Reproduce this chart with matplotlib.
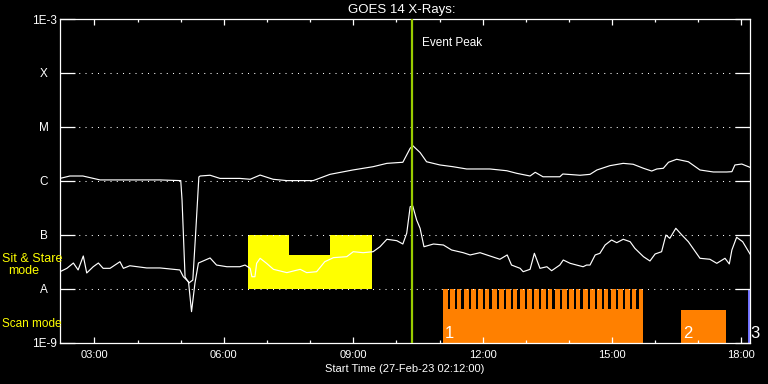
import matplotlib
matplotlib.use("Agg")
import matplotlib.pyplot as plt
from matplotlib.ticker import MultipleLocator, NullLocator

plt.rcParams['font.family'] = ['Liberation Sans', 'DejaVu Sans']

# GOES 14 long channel (1-8 A), time in hours UT on 27-Feb-23
long_t = [2.20, 2.43, 2.73, 3.13, 3.59, 4.06, 4.52, 5.00, 5.03, 5.10, 5.19, 5.28, 5.35, 5.42,
          5.45, 5.68, 5.91, 6.37, 6.61, 6.84, 7.14, 7.46, 8.07, 8.46, 8.99, 9.46, 9.78, 10.15,
          10.32, 10.38, 10.55, 10.70, 11.01, 11.31, 11.63, 12.17, 12.56, 12.79, 13.10, 13.22,
          13.40, 13.79, 13.86, 14.26, 14.49, 14.65, 14.95, 15.26, 15.49, 15.73, 15.92, 16.04,
          16.19, 16.31, 16.50, 16.77, 17.04, 17.35, 17.66, 17.78, 17.85, 18.01, 18.20]
long_flux = [1.11e-6, 1.23e-6, 1.23e-6, 1.04e-6, 1.04e-6, 1.04e-6, 1.04e-6, 1.01e-6, 4.4e-7,
             1.65e-8, 1.28e-8, 1.45e-8, 1.23e-7, 1.18e-6, 1.23e-6, 1.27e-6, 1.11e-6, 1.11e-6,
             1.07e-6, 1.28e-6, 1.07e-6, 1.01e-6, 1.01e-6, 1.32e-6, 1.59e-6, 1.83e-6, 2.11e-6,
             2.21e-6, 4.01e-6, 4.49e-6, 3.35e-6, 2.26e-6, 1.97e-6, 1.83e-6, 1.66e-6, 1.66e-6,
             1.54e-6, 1.38e-6, 1.23e-6, 1.44e-6, 1.19e-6, 1.19e-6, 1.34e-6, 1.27e-6, 1.32e-6,
             1.59e-6, 1.91e-6, 2.11e-6, 2.03e-6, 1.71e-6, 1.52e-6, 1.66e-6, 1.71e-6, 2.21e-6,
             2.51e-6, 2.26e-6, 1.59e-6, 1.46e-6, 1.46e-6, 1.48e-6, 1.97e-6, 2.05e-6, 1.78e-6]

# short channel (0.5-4 A)
short_t = [2.20, 2.36, 2.51, 2.62, 2.74, 2.82, 2.97, 3.09, 3.20, 3.36, 3.59, 3.67, 3.82, 4.21,
           4.52, 4.98, 5.06, 5.18, 5.25, 5.33, 5.41, 5.68, 5.83, 6.07, 6.37, 6.49, 6.61, 6.65,
           6.72, 6.76, 6.84, 6.99, 7.15, 7.46, 7.77, 7.92, 8.15, 8.34, 8.54, 8.85, 9.00, 9.23,
           9.46, 9.62, 9.78, 10.01, 10.15, 10.24, 10.32, 10.38, 10.47, 10.55, 10.64, 10.86,
           11.09, 11.28, 11.55, 11.71, 11.94, 12.17, 12.40, 12.57, 12.67, 12.87, 12.94, 13.10,
           13.20, 13.33, 13.49, 13.60, 13.79, 13.87, 14.03, 14.18, 14.33, 14.41, 14.49, 14.61,
           14.72, 14.84, 14.99, 15.11, 15.26, 15.42, 15.53, 15.73, 15.88, 16.00, 16.15, 16.25,
           16.34, 16.48, 16.62, 16.77, 17.04, 17.27, 17.43, 17.62, 17.72, 17.78, 17.89, 18.03,
           18.20]
short_flux = [2.07e-8, 2.39e-8, 3.00e-8, 2.23e-8, 4.05e-8, 1.96e-8, 2.56e-8, 3.00e-8, 2.39e-8,
              2.39e-8, 3.17e-8, 2.39e-8, 2.67e-8, 2.43e-8, 2.43e-8, 2.23e-8, 1.67e-8, 1.35e-8,
              3.76e-9, 1.28e-8, 3.00e-8, 3.72e-8, 2.75e-8, 2.56e-8, 2.56e-8, 2.75e-8, 2.39e-8,
              1.67e-8, 1.67e-8, 2.96e-8, 3.67e-8, 2.96e-8, 2.29e-8, 1.99e-8, 2.29e-8, 1.99e-8,
              2.07e-8, 3.17e-8, 3.77e-8, 3.93e-8, 4.86e-8, 4.66e-8, 4.86e-8, 6.01e-8, 8.26e-8,
              7.78e-8, 6.75e-8, 1.07e-7, 3.32e-7, 3.42e-7, 1.88e-7, 1.32e-7, 6.01e-8, 6.75e-8,
              6.47e-8, 5.23e-8, 4.66e-8, 4.23e-8, 4.66e-8, 4.05e-8, 3.52e-8, 4.23e-8, 2.75e-8,
              2.39e-8, 2.07e-8, 2.29e-8, 4.54e-8, 2.39e-8, 2.56e-8, 2.16e-8, 2.75e-8, 3.41e-8,
              2.96e-8, 2.75e-8, 2.56e-8, 2.75e-8, 2.75e-8, 4.23e-8, 4.54e-8, 6.47e-8, 8.01e-8,
              7.14e-8, 8.26e-8, 7.45e-8, 5.62e-8, 3.93e-8, 3.27e-8, 4.41e-8, 4.86e-8, 9.91e-8,
              8.61e-8, 1.32e-7, 9.91e-8, 7.45e-8, 3.67e-8, 3.52e-8, 2.96e-8, 3.67e-8, 2.88e-8,
              5.23e-8, 8.99e-8, 7.45e-8, 4.41e-8]

level_vals = [1e-9, 1e-8, 1e-7, 1e-6, 1e-5, 1e-4, 1e-3]
level_labels = ['1E-9', 'A', 'B', 'C', 'M', 'X', '1E-3']
hour_ticks = [3, 6, 9, 12, 15, 18]
hour_labels = ['03:00', '06:00', '09:00', '12:00', '15:00', '18:00']
t_range = [2.2, 18.2]   # 02:12 -> 18:12
peak_time = 10.36

# sit & stare pointings (yellow)
ss_start = [6.56, 7.51, 8.46]
ss_end = [7.51, 8.46, 9.43]
ss_top = [1e-7, 4.2e-8, 1e-7]

# scan mode rasters (orange), numbered
scan_start = [11.08, 16.60, 18.16]
scan_end = [15.73, 17.64, 18.20]
scan_top = [4.26e-9, 4.1e-9, 1e-8]
scan_names = ['1', '2', '3']
scan_colors = ['#ff8000', '#ff8000', '#7070ff']
scan1_steps = [11.08, 11.24, 11.40, 11.57, 11.73, 11.89, 12.05, 12.22, 12.38, 12.54, 12.70,
               12.87, 13.03, 13.19, 13.35, 13.51, 13.68, 13.84, 14.00, 14.16, 14.33, 14.49,
               14.65, 14.81, 14.98, 15.14, 15.30, 15.46, 15.62]
step_width = 0.108

fig = plt.figure(figsize=(7.68, 3.84), dpi=100, facecolor='black')
ax = fig.add_axes([60/768, 1 - 342.7/384, 690/768, 323.7/384], facecolor='black')
ax.set_yscale('log')
ax.set_xlim(t_range)
ax.set_ylim(level_vals[0], level_vals[-1])

# sit & stare boxes
ax.bar(ss_start, [t - 1e-8 for t in ss_top], width=[e - s for s, e in zip(ss_start, ss_end)],
       bottom=1e-8, align='edge', color='#ffff00', linewidth=0, antialiased=False, zorder=1)

# scan boxes
ax.bar(scan_start, [t - 1e-9 for t in scan_top], width=[e - s for s, e in zip(scan_start, scan_end)],
       bottom=1e-9, align='edge', color=scan_colors, linewidth=0, antialiased=False, zorder=1)
ax.bar(scan1_steps, 1e-8 - 1e-9, width=step_width, bottom=1e-9, align='edge',
       color='#ff8000', linewidth=0, antialiased=False, zorder=1)
for s, name in zip(scan_start, scan_names):
    ax.text(s + 0.04, 1.5e-9, name, color='white', fontsize=12, va='center', ha='left',
            clip_on=False, zorder=5)

# dotted class levels
for lv in level_vals[1:-1]:
    ax.axhline(lv, color='white', lw=0.75, ls=(0, (1, 5)), zorder=2)

ax.plot(long_t, long_flux, color='white', lw=0.85, zorder=3)
ax.plot(short_t, short_flux, color='white', lw=0.85, zorder=3)

ax.axvline(peak_time, color='#99cc00', lw=1.6, zorder=4)
ax.text(peak_time + 0.23, 3.6e-4, 'Event Peak', color='white', fontsize=8.5,
        va='center', ha='left')

# axes styling
for sp in ax.spines.values():
    sp.set_color('white')
    sp.set_linewidth(0.9)
ax.set_yticks(level_vals)
ax.set_yticklabels(level_labels)
ax.yaxis.set_minor_locator(NullLocator())
ax.tick_params(axis='y', which='major', direction='in', length=10.5, width=0.9,
               colors='white', left=True, right=True, pad=11.5, labelsize=8.5)
for lbl in ax.get_yticklabels():
    lbl.set_horizontalalignment('center')
ax.set_xticks(hour_ticks)
ax.set_xticklabels(hour_labels)
ax.xaxis.set_minor_locator(MultipleLocator(1))
ax.tick_params(axis='x', which='major', direction='in', length=4.5, width=0.9,
               colors='white', top=True, bottom=True, pad=5, labelsize=8)
ax.tick_params(axis='x', which='minor', direction='in', length=2.5, width=0.9,
               colors='white', top=True, bottom=True)

fig.text(402/768, 1 - 10/384, 'GOES 14 X-Rays:', color='white', fontsize=9.5,
         ha='center', va='center')
fig.text(405/768, 1 - 369/384, 'Start Time (27-Feb-23 02:12:00)', color='white',
         fontsize=8, ha='center', va='center')
fig.text(2/768, 1 - 259/384, 'Sit & Stare', color='#ffff00', fontsize=9, ha='left', va='center')
fig.text(24/768, 1 - 271/384, 'mode', color='#ffff00', fontsize=9, ha='center', va='center')
fig.text(2/768, 1 - 324/384, 'Scan mode', color='#ffff00', fontsize=8.5, ha='left', va='center')

fig.savefig('out.png', dpi=100, facecolor='black')
